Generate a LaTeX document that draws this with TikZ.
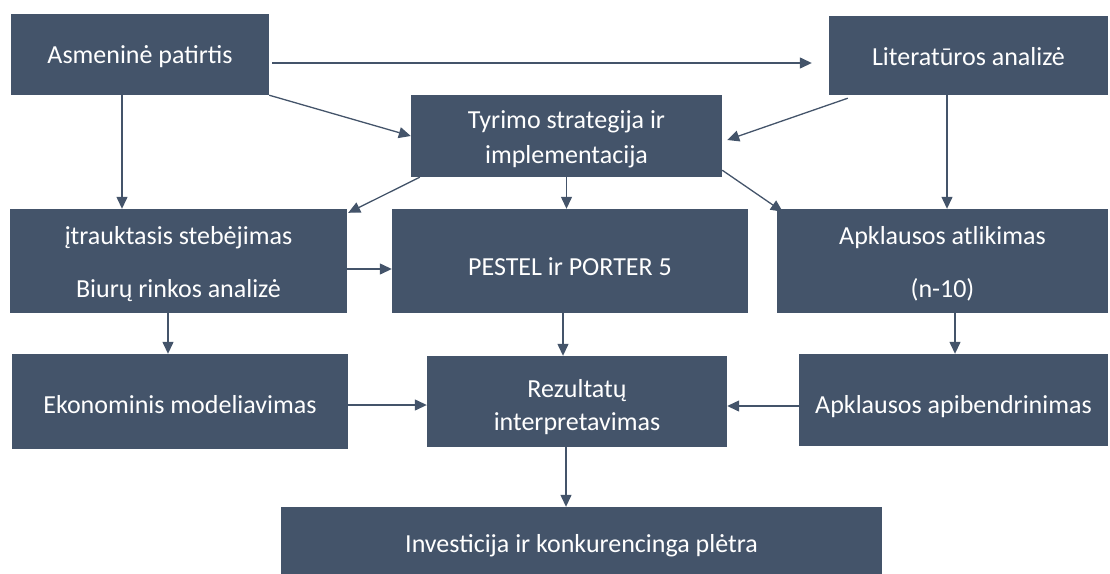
\documentclass[tikz,border=0pt]{standalone}
\usepackage{fontspec}
\setmainfont{Carlito}
\usepackage{tikz}
\usetikzlibrary{arrows.meta}
\definecolor{slate}{HTML}{44546A}

\begin{document}
\begin{tikzpicture}[x=1pt,y=1pt,
		box/.style={fill=slate,text=white,align=center,inner sep=0pt,
			font=\fontsize{26}{35}\selectfont},
		oneline/.style={text depth=0pt,text height=#1},
		conn/.style={draw=slate,line width=1.3pt,-{Triangle[length=12pt,width=11pt]}}]
			\useasboundingbox (0,0) rectangle (1110,-573);
			% top row
			\node[box,oneline=17pt,minimum width=258pt,minimum height=81pt] (asm) at (140,-54.5) {Asmeninė patirtis};
			\node[box,oneline=19pt,minimum width=279pt,minimum height=79pt] (lit) at (968.5,-55.5) {Literatūros analizė};
			\node[box,minimum width=311pt,minimum height=82pt] (tyr) at (566.5,-136) {\rule{0pt}{24.5pt}Tyrimo strategija ir\\implementacija};
			% middle row
			\node[box,minimum width=337pt,minimum height=104pt] (itr) at (178.5,-261) {\rule{0pt}{24.5pt}įtrauktasis stebėjimas\\[18pt]Biurų rinkos analizė};
			\node[box,oneline=29pt,minimum width=356pt,minimum height=104pt] (pes) at (570,-261) {PESTEL ir PORTER 5};
			\node[box,minimum width=331pt,minimum height=104pt] (apk) at (942.5,-261) {\rule{0pt}{24.5pt}Apklausos atlikimas\\[18pt](n-10)};
			% lower rows
			\node[box,oneline=23pt,minimum width=336pt,minimum height=95pt] (eko) at (180,-401.5) {Ekonominis modeliavimas};
			\node[box,minimum width=300pt,minimum height=91pt] (rez) at (577,-401.5) {\rule{0pt}{28.5pt}Rezultatų\\[-2pt]interpretavimas};
			\node[box,oneline=26pt,minimum width=309pt,minimum height=92pt] (api) at (953.5,-400) {Apklausos apibendrinimas};
			\node[box,oneline=14pt,minimum width=601pt,minimum height=76pt] (inv) at (581.5,-545) {Investicija ir konkurencinga plėtra};
			% arrows from the top row
			\draw[conn] ([xshift=3pt,yshift=-8.5pt]asm.east) -- ([xshift=-17pt,yshift=-7.5pt]lit.west);
			\draw[conn] (asm.south east) -- (tyr.west);
			\draw[conn] ([xshift=-18pt]asm.south) -- ([xshift=-18pt]asm.south |- itr.north);
			\draw[conn] ([xshift=19pt,yshift=-3pt]lit.south west) -- ([xshift=5pt,yshift=-4pt]tyr.east);
			\draw[conn] ([xshift=-21.5pt]lit.south) -- ([xshift=-21.5pt]lit.south |- apk.north);
			\draw[conn] ([xshift=9pt]tyr.south west) -- ([xshift=1pt,yshift=-4pt]itr.north east);
			\draw[conn] (tyr.south) -- (tyr.south |- pes.north);
			\draw[conn] ([yshift=7pt]tyr.south east) -- ([xshift=6pt,yshift=-3pt]apk.north west);
			% arrows from the middle row
			\draw[conn] ([yshift=-8pt]itr.east) -- ([yshift=-8pt]itr.east -| pes.west);
			\draw[conn] ([xshift=-10.5pt]itr.south) -- ([xshift=-10.5pt]itr.south |- eko.north);
			\draw[conn] ([xshift=-7pt]pes.south) -- ([xshift=-7pt]pes.south |- rez.north);
			\draw[conn] ([xshift=12.5pt]apk.south) -- ([xshift=12.5pt]apk.south |- api.north);
			% into the results and out
			\draw[conn] ([yshift=-3.5pt]eko.east) -- ([yshift=-3.5pt]eko.east -| rez.west);
			\draw[conn] ([yshift=-6pt]api.west) -- ([yshift=-6pt]api.west -| rez.east);
			\draw[conn] ([xshift=-11pt]rez.south) -- ([xshift=-11pt]rez.south |- inv.north);
		\end{tikzpicture}
\end{document}
